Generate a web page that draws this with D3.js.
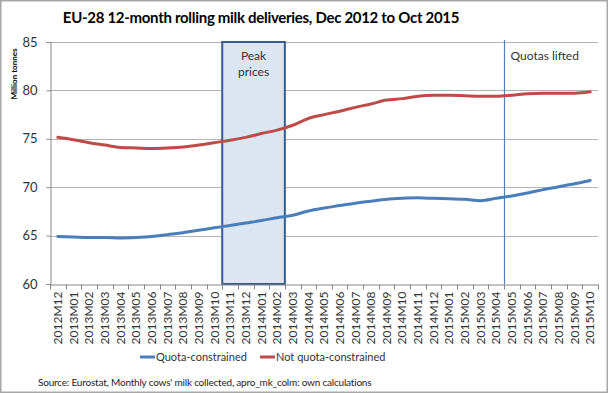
<!DOCTYPE html>
<html>
<head>
<meta charset="utf-8">
<script src="https://cdn.jsdelivr.net/npm/d3@7"></script>
<style>
	body { margin: 0; background: #fff; }
	svg { display: block; font-family: Lato, "Open Sans", sans-serif; }
</style>
</head>
<body>
<svg id="chart"></svg>
<script>
const months = [
	'2012M12',
	'2013M01', '2013M02', '2013M03', '2013M04', '2013M05', '2013M06',
	'2013M07', '2013M08', '2013M09', '2013M10', '2013M11', '2013M12',
	'2014M01', '2014M02', '2014M03', '2014M04', '2014M05', '2014M06',
	'2014M07', '2014M08', '2014M09', '2014M10', '2014M11', '2014M12',
	'2015M01', '2015M02', '2015M03', '2015M04', '2015M05', '2015M06',
	'2015M07', '2015M08', '2015M09', '2015M10',
]

const quotaConstrained = [
	64.9, 64.85, 64.8, 64.8, 64.75, 64.8, 64.9, 65.1, 65.3, 65.55, 65.8, 66.05, 66.3,
	66.55, 66.85, 67.1, 67.55, 67.85, 68.1, 68.35, 68.55, 68.75, 68.85, 68.9, 68.85,
	68.8, 68.75, 68.6, 68.85, 69.1, 69.4, 69.75, 70.05, 70.35, 70.7,
]

const notQuotaConstrained = [
	75.15, 74.9, 74.6, 74.35, 74.1, 74.05, 74.0, 74.05, 74.15, 74.35, 74.6, 74.85, 75.15,
	75.55, 75.9, 76.4, 77.1, 77.5, 77.85, 78.25, 78.6, 79.0, 79.15, 79.4, 79.5,
	79.5, 79.45, 79.4, 79.4, 79.5, 79.65, 79.7, 79.7, 79.7, 79.85,
]

const yTicks = [60, 65, 70, 75, 80, 85]
const peakPrices = ['2013M11', '2014M02']
const quotasLifted = '2015M05'

const series = [
	{ name: 'Quota-constrained', values: quotaConstrained, color: '#4a7ebb' },
	{ name: 'Not quota-constrained', values: notQuotaConstrained, color: '#be4b48' },
]

const width = 608
const height = 393
const margin = { top: 42, right: 10, bottom: 109, left: 50 }

const svg = d3.select('#chart')
	.attr('width', width)
	.attr('height', height)

// outer frame
svg.append('rect')
	.attr('x', 0.75)
	.attr('y', 0.75)
	.attr('width', width - 1.5)
	.attr('height', height - 1.5)
	.attr('fill', '#fff')
	.attr('stroke', '#a6a6a6')
	.attr('stroke-width', 1.5)

const x = d3.scaleBand()
	.domain(months)
	.range([margin.left, width - margin.right])

const y = d3.scaleLinear()
	.domain([60, 85])
	.range([height - margin.bottom, margin.top])

// title
svg.append('text')
	.attr('x', 261)
	.attr('y', 23)
	.attr('text-anchor', 'middle')
	.style('font-size', '15px')
	.style('letter-spacing', '-0.3px')
	.style('font-weight', 'bold')
	.text('EU-28 12-month rolling milk deliveries, Dec 2012 to Oct 2015')

// gridlines
svg.append('g')
	.selectAll('line')
	.data(yTicks.slice(1))
	.join('line')
		.attr('x1', margin.left)
		.attr('x2', width - margin.right)
		.attr('y1', d => Math.round(y(d)) + 0.5)
		.attr('y2', d => Math.round(y(d)) + 0.5)
		.attr('stroke', '#b3b3b3')
		.attr('stroke-width', 1)

// peak prices box
const boxX0 = x(peakPrices[0])
const boxX1 = x(peakPrices[1]) + x.bandwidth()
svg.append('rect')
	.attr('x', boxX0)
	.attr('y', y(85))
	.attr('width', boxX1 - boxX0)
	.attr('height', y(60) - y(85))
	.attr('fill', '#dce6f2')
	.attr('stroke', '#385d8a')
	.attr('stroke-width', 2)

svg.append('text')
	.attr('x', (boxX0 + boxX1) / 2)
	.attr('text-anchor', 'middle')
	.style('font-size', '12px')
	.attr('fill', '#333')
	.selectAll('tspan')
	.data(['Peak', 'prices'])
	.join('tspan')
		.attr('x', (boxX0 + boxX1) / 2)
		.attr('y', (d, i) => 60 + i * 16)
		.text(d => d)

// quotas lifted marker
const qx = Math.round(x(quotasLifted)) + 0.5
svg.append('line')
	.attr('x1', qx)
	.attr('x2', qx)
	.attr('y1', 40)
	.attr('y2', y(60))
	.attr('stroke', '#4f81bd')
	.attr('stroke-width', 1.2)

svg.append('text')
	.attr('x', qx + 6)
	.attr('y', 60)
	.style('font-size', '12px')
	.attr('fill', '#333')
	.text('Quotas lifted')

// y axis
const yAxis = svg.append('g')
	.attr('transform', `translate(${margin.left + 0.5},0)`)
	.call(d3.axisLeft(y).tickValues(yTicks).tickSize(4).tickPadding(9))
yAxis.select('.domain').attr('stroke', '#868686')
yAxis.selectAll('.tick line').attr('stroke', '#868686')
yAxis.selectAll('text')
	.style('font-size', '13px')
	.style('font-family', 'Lato, sans-serif')
	.attr('fill', '#333')

svg.append('text')
	.attr('transform', `translate(17,74) rotate(-90)`)
	.attr('text-anchor', 'middle')
	.style('font-size', '8px')
	.style('font-weight', 'bold')
	.text('Million tonnes')

// x axis
const xAxis = svg.append('g')
	.attr('transform', `translate(0,${y(60) + 0.5})`)
	.call(d3.axisBottom(x).tickSize(0))
xAxis.select('.domain').attr('stroke', '#868686')
xAxis.selectAll('.tick text')
	.attr('transform', 'rotate(-90)')
	.attr('text-anchor', 'end')
	.attr('x', -7)
	.attr('y', 0)
	.attr('dy', '0.35em')
	.style('font-size', '12px')
	.style('font-family', 'Lato, sans-serif')
	.attr('fill', '#333')

// tick marks at category boundaries
xAxis.append('g')
	.selectAll('line')
	.data(months.concat(['end']))
	.join('line')
		.attr('x1', (d, i) => Math.round(margin.left + i * x.step()) + 0.5)
		.attr('x2', (d, i) => Math.round(margin.left + i * x.step()) + 0.5)
		.attr('y1', 0)
		.attr('y2', 5)
		.attr('stroke', '#868686')

// lines
const line = d3.line()
	.x((d, i) => x(months[i]) + x.bandwidth() / 2)
	.y(d => y(d))
	.curve(d3.curveMonotoneX)

svg.append('g')
	.selectAll('path')
	.data(series)
	.join('path')
		.attr('d', d => line(d.values))
		.attr('fill', 'none')
		.attr('stroke', d => d.color)
		.attr('stroke-width', 3)
		.attr('stroke-linecap', 'round')

// legend
const legend = svg.append('g')
	.selectAll('g')
	.data(series)
	.join('g')
		.attr('transform', (d, i) => `translate(${[140, 260][i]},357)`)

legend.append('line')
	.attr('x1', 0)
	.attr('x2', 15)
	.attr('stroke', d => d.color)
	.attr('stroke-width', 3)

legend.append('text')
	.attr('x', 16)
	.attr('dy', '0.35em')
	.style('font-size', '11px')
	.attr('fill', '#333')
	.text(d => d.name)

// source
svg.append('text')
	.attr('x', 38)
	.attr('y', 386)
	.style('font-size', '10px')
	.style('letter-spacing', '-0.2px')
	.attr('fill', '#222')
	.text('Source:  Eurostat, Monthly cows\' milk collected, apro_mk_colm: own calculations')
</script>
</body>
</html>
